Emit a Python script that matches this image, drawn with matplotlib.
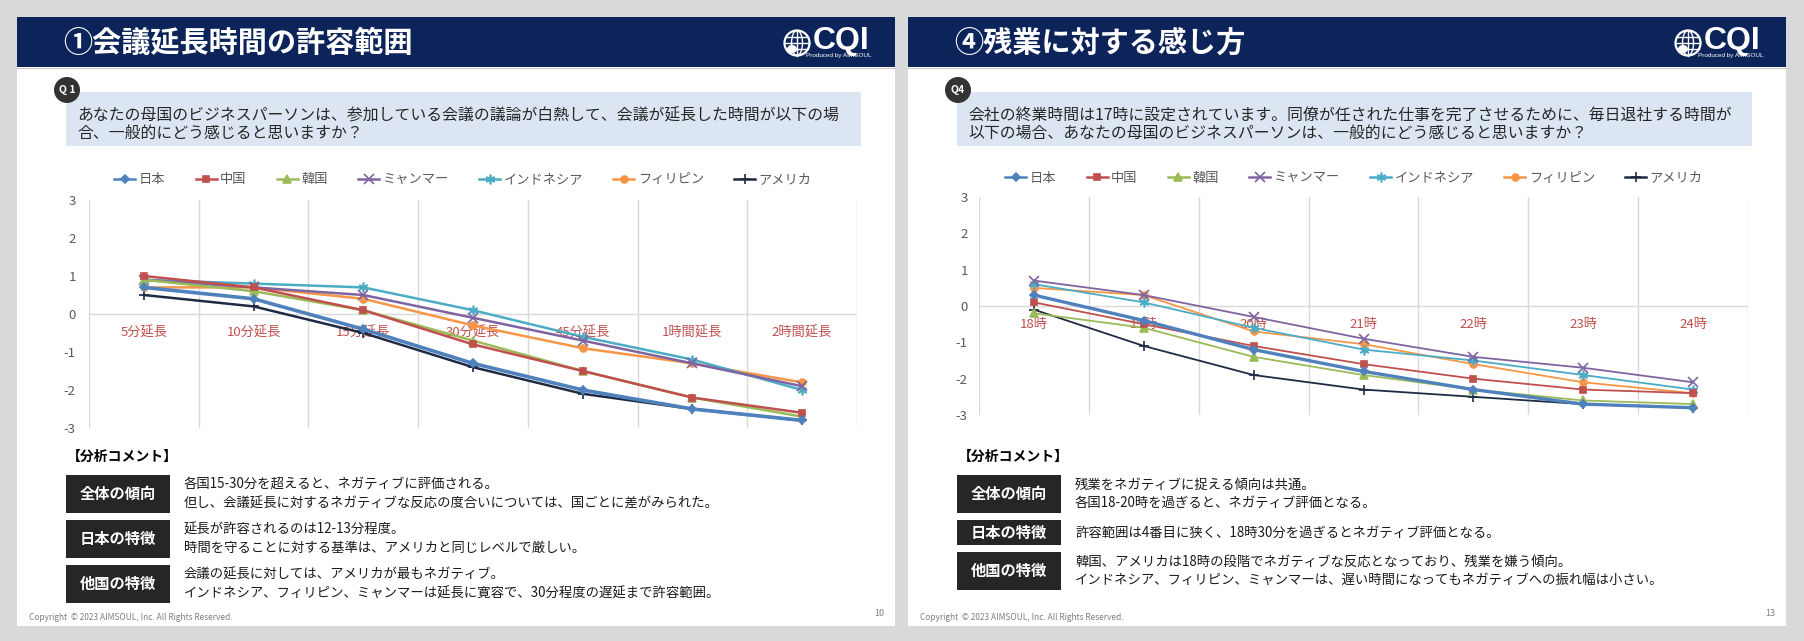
import matplotlib
matplotlib.use('Agg')
import numpy as np
import matplotlib.pyplot as plt
from matplotlib.patches import Rectangle, Circle, Ellipse
from matplotlib.lines import Line2D

plt.rcParams['font.family'] = ['Noto Sans CJK JP', 'DejaVu Sans']
plt.rcParams['axes.unicode_minus'] = False

W, H, DPI = 1804, 641, 100

# ---------------- data ----------------
series_names = ['日本', '中国', '韓国', 'ミャンマー', 'インドネシア', 'フィリピン', 'アメリカ']

q1_categories = ['5分延長', '10分延長', '15分延長', '30分延長', '45分延長', '1時間延長', '2時間延長']
q1_japan     = [0.7, 0.4, -0.4, -1.3, -2.0, -2.5, -2.8]
q1_china     = [1.0, 0.7, 0.1, -0.8, -1.5, -2.2, -2.6]
q1_korea     = [0.9, 0.6, 0.1, -0.7, -1.5, -2.2, -2.7]
q1_myanmar   = [0.9, 0.7, 0.5, -0.1, -0.7, -1.3, -1.9]
q1_indonesia = [0.9, 0.8, 0.7, 0.1, -0.6, -1.2, -2.0]
q1_philippines = [0.7, 0.7, 0.4, -0.3, -0.9, -1.3, -1.8]
q1_usa       = [0.5, 0.2, -0.5, -1.4, -2.1, -2.5, -2.8]

q4_categories = ['18時', '19時', '20時', '21時', '22時', '23時', '24時']
q4_japan     = [0.3, -0.4, -1.2, -1.8, -2.3, -2.7, -2.8]
q4_china     = [0.1, -0.5, -1.1, -1.6, -2.0, -2.3, -2.4]
q4_korea     = [-0.2, -0.6, -1.4, -1.9, -2.3, -2.6, -2.7]
q4_myanmar   = [0.7, 0.3, -0.3, -0.9, -1.4, -1.7, -2.1]
q4_indonesia = [0.6, 0.1, -0.6, -1.2, -1.5, -1.9, -2.3]
q4_philippines = [0.5, 0.3, -0.7, -1.05, -1.6, -2.1, -2.4]
q4_usa       = [-0.1, -1.1, -1.9, -2.3, -2.5, -2.7, -2.8]

y_ticks = [3, 2, 1, 0, -1, -2, -3]

title_left = '①会議延長時間の許容範囲'
title_right = '④残業に対する感じ方'
q_left = ['あなたの母国のビジネスパーソンは、参加している会議の議論が白熱して、会議が延長した時間が以下の場',
          '合、一般的にどう感じると思いますか？']
q_right = ['会社の終業時間は17時に設定されています。同僚が任された仕事を完了させるために、毎日退社する時間が',
           '以下の場合、あなたの母国のビジネスパーソンは、一般的にどう感じると思いますか？']
labels_box = ['全体の傾向', '日本の特徴', '他国の特徴']
comments_left = [['各国15-30分を超えると、ネガティブに評価される。',
                  '但し、会議延長に対するネガティブな反応の度合いについては、国ごとに差がみられた。'],
                 ['延長が許容されるのは12-13分程度。',
                  '時間を守ることに対する基準は、アメリカと同じレベルで厳しい。'],
                 ['会議の延長に対しては、アメリカが最もネガティブ。',
                  'インドネシア、フィリピン、ミャンマーは延長に寛容で、30分程度の遅延まで許容範囲。']]
comments_right = [['残業をネガティブに捉える傾向は共通。',
                   '各国18-20時を過ぎると、ネガティブ評価となる。'],
                  ['許容範囲は4番目に狭く、18時30分を過ぎるとネガティブ評価となる。'],
                  ['韓国、アメリカは18時の段階でネガティブな反応となっており、残業を嫌う傾向。',
                   'インドネシア、フィリピン、ミャンマーは、遅い時間になってもネガティブへの振れ幅は小さい。']]

# ---------------- styles ----------------
colors = ['#4F81BD', '#C0504D', '#9BBB59', '#8064A2', '#4BACC6', '#F79646', '#1F2A44']
markers = ['D', 's', '^', 'x', (6, 2, 0), 'o', '+']
msizes = [4.5, 5, 5.5, 6.5, 7, 5, 7]
NAVY = '#0C2459'
GRID = '#D9D9D9'
TXT = '#595959'

fig = plt.figure(figsize=(W / DPI, H / DPI), dpi=DPI, facecolor='#D9D9D9')
bg = fig.add_axes([0, 0, 1, 1], zorder=0)
bg.set_xlim(0, W)
bg.set_ylim(H, 0)
bg.axis('off')


def rect(x0, y0, x1, y1, color, **kw):
    bg.add_patch(Rectangle((x0, y0), x1 - x0, y1 - y0, facecolor=color, edgecolor='none', **kw))


def logo(cx, cy):
    bg.add_patch(Circle((cx, cy), 12.5, facecolor='none', edgecolor='white', lw=1.6))
    bg.add_patch(Ellipse((cx, cy), 11, 25, facecolor='none', edgecolor='white', lw=1.0))
    for dy in (-6, 0, 6):
        half = np.sqrt(max(156 - dy * dy, 0))
        bg.plot([cx - half, cx + half], [cy + dy, cy + dy], color='white', lw=1.0)
    bg.plot([cx, cx], [cy - 12.5, cy + 12.5], color='white', lw=1.0)
    bg.add_patch(Ellipse((cx - 5, cy + 6), 10, 8, facecolor='white', edgecolor='none'))
    bg.text(cx + 16, cy - 2, 'CQI', color='white', fontsize=23, fontweight='bold',
            family=['Liberation Sans', 'DejaVu Sans'], ha='left', va='center')
    bg.text(cx + 75, cy + 13, 'Produced by AIMSOUL', color='white', fontsize=4.6,
            family=['Liberation Sans', 'DejaVu Sans'], ha='right', va='center')


def slide(x0, x1, title, qlabel, qlines, comments, page):
    rect(x0, 17, x1, 626, 'white')
    rect(x0, 17, x1, 67, NAVY)
    bg.plot([x0, x1], [68, 68], color='#BFBFBF', lw=0.6)
    bg.text(x0 + 46, 43, title, color='white', fontsize=21, fontweight='bold',
            ha='left', va='center')
    logo(x1 - 98, 43)
    # question
    rect(x0 + 49, 92, x1 - 34, 146, '#DCE6F2')
    bg.add_patch(Circle((x0 + 50, 90), 13, facecolor='#333333', edgecolor='none'))
    bg.text(x0 + 50, 90, qlabel, color='white', fontsize=7.5, fontweight='bold',
            ha='center', va='center')
    for i, line in enumerate(qlines):
        bg.text(x0 + 60, 116 + i * 17, line, color='#262626', fontsize=11.4,
                ha='left', va='center')
    # analysis comments
    bg.text(x0 + 50, 457, '【分析コメント】', color='black', fontsize=10,
            fontweight='bold', ha='left', va='center')
    y = 475
    for lab, lines in zip(labels_box, comments):
        h = 38 if len(lines) == 2 else 25
        rect(x0 + 49, y, x0 + 153, y + h, '#262626')
        bg.text(x0 + 101, y + h / 2, lab, color='white', fontsize=11, fontweight='bold',
                ha='center', va='center')
        for j, line in enumerate(lines):
            yy = y + h / 2 + (j - (len(lines) - 1) / 2) * 18.5
            bg.text(x0 + 167, yy, line, color='#1A1A1A', fontsize=9.6, ha='left', va='center')
        y += h + 7
    bg.text(x0 + 12, 618, 'Copyright  © 2023 AIMSOUL, Inc. All Rights Reserved.',
            color='#7F7F7F', fontsize=6, ha='left', va='center')
    bg.text(x1 - 11, 613, page, color='#7F7F7F', fontsize=6.5, ha='right', va='center')


slide(17, 895, title_left, 'Q 1', q_left, comments_left, '10')
slide(908, 1786, title_right, 'Q4', q_right, comments_right, '13')


def chart(box, categories, data, lws, pad, legend_center):
    x0, ytop, x1, ybot = box
    ax = fig.add_axes([x0 / W, 1 - ybot / H, (x1 - x0) / W, (ybot - ytop) / H], zorder=2)
    ax.set_facecolor('none')
    xs = np.arange(len(categories))
    ax.set_xlim(-0.5, len(categories) - 0.5)
    ax.set_ylim(-3, 3)
    for s in ax.spines.values():
        s.set_visible(False)
    ax.set_xticks([])
    ax.set_xticks(np.arange(-0.5, len(categories), 1.0), minor=True)
    ax.grid(which='minor', axis='x', color=GRID, lw=1.0)
    ax.axhline(0, color=GRID, lw=1.0, zorder=1)
    ax.set_yticks(y_ticks)
    ax.set_yticklabels([str(t) for t in y_ticks])
    ax.tick_params(axis='both', which='both', length=0)
    ax.tick_params(axis='y', pad=pad, labelsize=9.5, labelcolor=TXT)
    for i, c in enumerate(categories):
        ax.annotate(c, xy=(xs[i], 0), xytext=(0, -19), textcoords='offset pixels',
                    ha='center', va='center', color='#C0504D', fontsize=9.5)
    handles = []
    for k, vals in enumerate(data):
        ax.plot(xs, vals, color=colors[k], lw=lws[k], marker=markers[k], markersize=msizes[k],
                markeredgewidth=1.2, zorder=3 + (7 - k) * 0.01, clip_on=False)
        handles.append(Line2D([], [], color=colors[k], lw=1.8, marker=markers[k],
                              markersize=msizes[k], markeredgewidth=1.2))
    fig.legend(handles, series_names, loc='center',
               bbox_to_anchor=(legend_center[0] / W, 1 - legend_center[1] / H),
               ncol=7, frameon=False, fontsize=9.5, handlelength=1.6, handletextpad=0.25,
               columnspacing=2.3, labelcolor=TXT)
    return ax


q1_data = [q1_japan, q1_china, q1_korea, q1_myanmar, q1_indonesia, q1_philippines, q1_usa]
q4_data = [q4_japan, q4_china, q4_korea, q4_myanmar, q4_indonesia, q4_philippines, q4_usa]

chart((89, 200, 857, 428), q1_categories, q1_data,
      [2.6, 1.8, 1.8, 1.8, 1.8, 1.8, 1.8], 9.5, (463, 180))
chart((979, 197, 1748, 415), q4_categories, q4_data,
      [2.4, 1.3, 1.3, 1.3, 1.3, 1.3, 1.3], 8.0, (1354, 178))

fig.savefig('out.png', dpi=DPI, facecolor=fig.get_facecolor())
